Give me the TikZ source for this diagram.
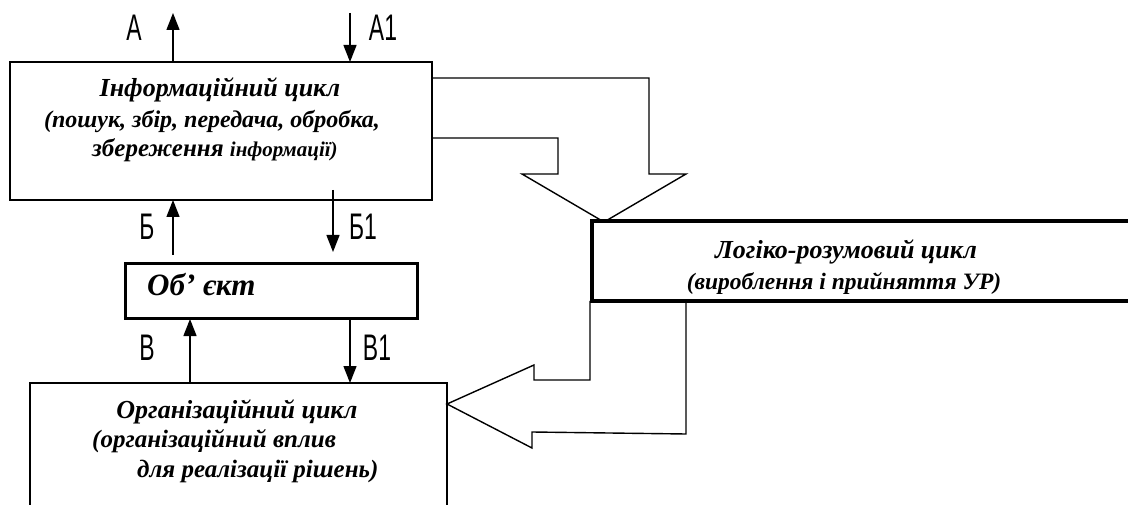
\documentclass[tikz,border=0pt]{standalone}
\usepackage{fontspec}
\setmainfont{Liberation Serif}
\newfontfamily\lblfont[FakeStretch=0.62]{Liberation Sans}
\usetikzlibrary{arrows.meta}
\newcommand{\fs}[1]{\fontsize{#1}{#1}\selectfont}
\begin{document}
\begin{tikzpicture}[x=1pt,y=-1pt,
  box/.style={draw, line width=1.5pt, outer sep=0pt, inner sep=0pt, anchor=north west},
  txt/.style={font=\bfseries\itshape, inner sep=0pt, anchor=base},
  lbl/.style={font=\lblfont\fontsize{37}{37}\selectfont, inner sep=0pt},
  arr/.style={line width=1.4pt, -{Triangle[width=13pt,length=17pt]}},
  blockarrow/.style={line width=1.4pt, line join=miter}]
\useasboundingbox (0,0) rectangle (1128,505);

% boxes
\node[box, minimum width=422pt, minimum height=138pt] (info) at (10,62) {};
\node[box, line width=3pt, minimum width=292pt, minimum height=55pt] (obj) at (125,264) {};
\node[box, draw=none, minimum width=536pt, minimum height=80pt] (logic) at (592,221) {};
\draw[line width=4pt] (logic.north east) -- (logic.north west) -- (logic.south west) -- (logic.south east);
\node[box, draw=none, minimum width=417pt, minimum height=122pt] (org) at (30,383) {};
\draw[line width=1.5pt] (org.south west) -- (org.north west) -- (org.north east) -- (org.south east);

% block arrows
\draw[blockarrow] (info.east |- 0,78) -- (649,78) -- (649,174) -- (686,174) -- (604,222)
  -- (522,174) -- (558,174) -- (558,138) -- (info.east |- 0,138);
\coordinate (q1) at (590,0);
\coordinate (q2) at (686,0);
\draw[blockarrow] (q1 |- logic.south) -- (590,380) -- (534,380) -- (534,365) -- (org.east |- 0,404)
  -- (532,448) -- (532,432) -- (686,434) -- (q2 |- logic.south);

% texts
\node[txt] (i1) at (220,97) {\fs{26}Інформаційний цикл};
\node[txt] (i2) at (212,128) {\fs{24}(пошук, збір, передача, обробка,};
\node[txt, anchor=base west] (i3) at (92,157) {\fs{25}збереження {\fs{21}інформації)}};
\node[txt] (l1) at (846,259) {\fs{26}Логіко-розумовий цикл};
\node[txt] (l2) at (844,290) {\fs{23.5}(вироблення і прийняття УР)};
\node[txt, anchor=base west] (ot) at (147,295) {\fs{31}Об’ єкт};
\node[txt] (o1) at (237,418) {\fs{26}Організаційний цикл};
\node[txt, anchor=base west] (o2) at (92,447) {\fs{25}(організаційний вплив};
\node[txt, anchor=base west] (o3) at (137,477) {\fs{25}для реалізації рішень)};

% labels
\node[lbl] (la) at (134,28) {А};
\node[lbl] (la1) at (383,28) {А1};
\node[lbl] (lb) at (147,227) {Б};
\node[lbl] (lb1) at (363,227) {Б1};
\node[lbl] (lv) at (147,348) {В};
\node[lbl] (lv1) at (377,348) {В1};

% arrows
\coordinate (aT) at (173,13);
\draw[arr] (aT |- info.north) -- (aT);
\coordinate (a1T) at (350,13);
\draw[arr] (a1T) -- (a1T |- info.north);
\coordinate (bB) at (173,255);
\draw[arr] (bB) -- (bB |- info.south);
\coordinate (b1T) at (333,190);
\coordinate (b1B) at (333,252);
\draw[arr] (b1T) -- (b1B);
\coordinate (vx) at (190,0);
\draw[arr] (vx |- org.north) -- (vx |- obj.south);
\coordinate (v1x) at (350,0);
\draw[arr] (v1x |- obj.south) -- (v1x |- org.north);
\end{tikzpicture}
\end{document}
